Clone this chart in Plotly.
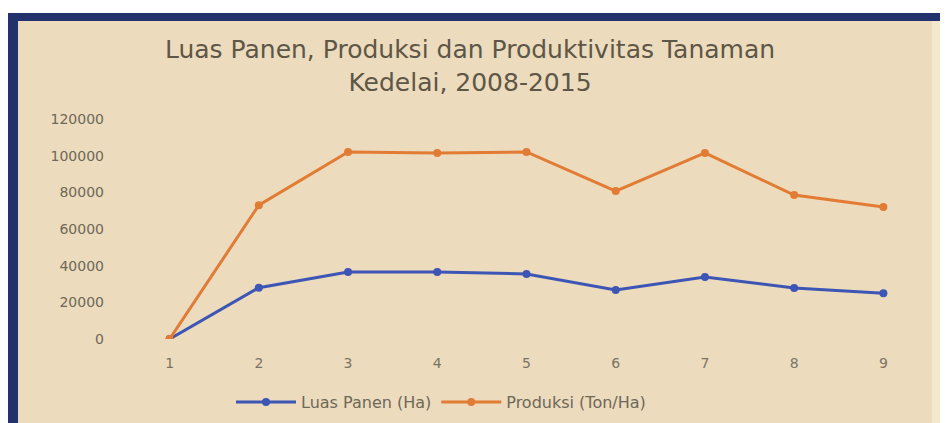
import plotly.graph_objects as go

# Data
categories = [1, 2, 3, 4, 5, 6, 7, 8, 9]
luas_panen = [0, 28000, 36500, 36500, 35500, 26700, 33800, 27800, 25000]
produksi = [0, 73000, 102000, 101500, 102000, 80700, 101500, 78500, 72000]
y_ticks = [0, 20000, 40000, 60000, 80000, 100000, 120000]

# The page body adds an 8px margin, so the figure is 940x415 and sits at (8, 8)
W, H = 940, 415
ML, MR, MT, MB = 117, 20, 111, 84
PW, PH = W - ML - MR, H - MT - MB


def px(x):
    return (x - ML) / PW


def py(y):
    return (H - MB - y) / PH


BG = "#ecdbbd"
BLUE_BORDER = "#21326d"
FONT = "DejaVu Sans"

fig = go.Figure()
fig.add_trace(go.Scatter(
    x=categories, y=luas_panen, name="Luas Panen (Ha)", mode="lines+markers",
    line=dict(color="#3d55b5", width=3), marker=dict(size=8, color="#3d55b5"),
))
fig.add_trace(go.Scatter(
    x=categories, y=produksi, name="Produksi (Ton/Ha)", mode="lines+markers",
    line=dict(color="#e27c34", width=3), marker=dict(size=8, color="#e27c34"),
))

shapes = [
    # white strip at top
    dict(type="rect", xref="paper", yref="paper", x0=px(0), x1=px(W), y0=py(5), y1=py(0),
         fillcolor="white", line_width=0, layer="below"),
    # dark blue top border
    dict(type="rect", xref="paper", yref="paper", x0=px(0), x1=px(W), y0=py(13), y1=py(5),
         fillcolor=BLUE_BORDER, line_width=0, layer="below"),
    # dark blue left border
    dict(type="rect", xref="paper", yref="paper", x0=px(0), x1=px(10), y0=py(H), y1=py(5),
         fillcolor=BLUE_BORDER, line_width=0, layer="below"),
    # pale stripe at right
    dict(type="rect", xref="paper", yref="paper", x0=px(924), x1=px(W), y0=py(H), y1=py(13),
         fillcolor="#f3e8cc", line_width=0, layer="below"),
]

fig.update_layout(
    width=W, height=H,
    margin=dict(l=ML, r=MR, t=MT, b=MB),
    paper_bgcolor=BG, plot_bgcolor="rgba(0,0,0,0)",
    title=dict(
        text="Luas Panen, Produksi dan Produktivitas Tanaman<br>Kedelai, 2008-2015",
        x=(470 - 8) / W, xref="container", xanchor="center",
        y=1 - 50 / H, yref="container", yanchor="middle",
        font=dict(family=FONT, size=25, color="#5e5646"),
    ),
    xaxis=dict(
        tickmode="array", tickvals=categories, ticktext=[str(c) for c in categories],
        range=[0.5, 9.5], showgrid=False, zeroline=False, showline=False,
        tickfont=dict(family=FONT, size=14, color="#7a7464"), ticks="",
        ticklabelstandoff=14,
    ),
    yaxis=dict(
        tickmode="array", tickvals=y_ticks, ticktext=[str(t) for t in y_ticks],
        range=[0, 120000], showgrid=False, zeroline=False, showline=False,
        tickfont=dict(family=FONT, size=14, color="#6e6858"), ticks="",
        ticklabelstandoff=20,
    ),
    legend=dict(
        orientation="h", x=(441 - 8) / W, xref="container", xanchor="center",
        y=1 - (402 - 8) / H, yref="container", yanchor="middle",
        font=dict(family=FONT, size=16, color="#6e6858"),
        bgcolor="rgba(0,0,0,0)", itemwidth=60,
    ),
    shapes=shapes,
    showlegend=True,
)

fig.write_html("out.html")
